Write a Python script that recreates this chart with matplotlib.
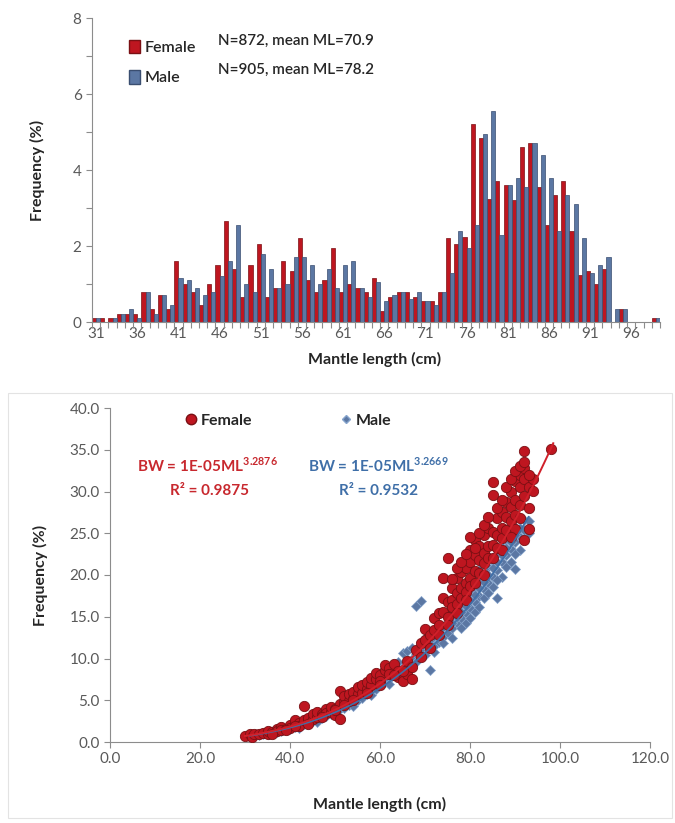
"""
Mantle length frequency (top) and length-weight relationship (bottom)
for female and male squid, redrawn from the reference figure.
"""

import numpy as np
import matplotlib
matplotlib.use("Agg")
import matplotlib.pyplot as plt
from matplotlib.patches import Patch, Rectangle
from matplotlib.lines import Line2D
from matplotlib.ticker import FormatStrFormatter, MultipleLocator

plt.rcParams["font.family"] = ["Lato", "DejaVu Sans"]
plt.rcParams["mathtext.fontset"] = "custom"
plt.rcParams["mathtext.rm"] = "Lato"
plt.rcParams["mathtext.bf"] = "Lato:bold"

# --- length frequency (%), one value per 1 cm class -------------------
ml_classes = list(range(31, 100))
female_freq = [
    0.10, 0.10, 0.10, 0.20, 0.20, 0.20, 0.80, 0.35, 0.70, 0.35,   # 31-40
    1.60, 1.00, 0.80, 0.45, 1.00, 1.50, 2.65, 1.40, 0.65, 1.50,   # 41-50
    2.05, 0.65, 0.90, 1.60, 1.35, 2.20, 1.10, 0.80, 1.10, 1.95,   # 51-60
    0.80, 1.00, 0.90, 0.80, 1.15, 0.30, 0.65, 0.80, 0.80, 0.65,   # 61-70
    0.55, 0.55, 0.80, 2.20, 2.05, 2.25, 5.20, 4.85, 3.25, 3.70,   # 71-80
    3.60, 3.20, 4.60, 4.70, 3.55, 2.55, 3.35, 3.70, 2.40, 1.25,   # 81-90
    1.35, 1.00, 1.40, 0.00, 0.35, 0.00, 0.00, 0.00, 0.10,         # 91-99
]
male_freq = [
    0.10, 0.00, 0.10, 0.20, 0.35, 0.10, 0.80, 0.20, 0.70, 0.45,   # 31-40
    1.15, 1.10, 0.90, 0.70, 0.80, 1.20, 1.60, 2.55, 1.00, 0.80,   # 41-50
    1.80, 1.40, 0.90, 1.00, 1.70, 1.70, 1.50, 1.00, 1.40, 0.90,   # 51-60
    1.50, 1.60, 0.90, 0.65, 1.05, 0.55, 0.70, 0.80, 0.60, 0.80,   # 61-70
    0.55, 0.45, 0.80, 1.30, 2.40, 1.95, 2.55, 4.95, 5.55, 2.30,   # 71-80
    3.60, 3.80, 3.55, 4.70, 4.40, 3.80, 2.40, 3.35, 3.10, 2.20,   # 81-90
    1.30, 1.50, 1.70, 0.35, 0.35, 0.00, 0.00, 0.00, 0.10,         # 91-99
]
female_label = "N=872, mean ML=70.9"
male_label = "N=905, mean ML=78.2"

# --- length-weight pairs -----------------------------------------------
female_ml = [
    30, 31, 31.5, 32, 33, 34, 35, 35, 36, 37, 37, 38, 38, 39, 40, 40, 41, 41,
    42, 42, 43, 43, 44, 44, 45, 45, 46, 46, 47, 47, 48, 48, 49, 49, 50, 50,
    51, 51, 51, 52, 52, 53, 53, 54, 54, 55, 55, 56, 56, 57, 57, 58, 58, 59,
    59, 60, 60, 61, 61, 62, 62, 63, 64, 64, 65, 66, 66, 67, 68, 69, 70, 70,
    71, 72, 72, 73, 73, 74, 74, 74, 75, 75, 75, 76, 76, 76, 77, 77, 77, 78,
    78, 78, 79, 79, 79, 80, 80, 80, 80, 81, 81, 81, 82, 82, 82, 83, 83, 83,
    84, 84, 84, 85, 85, 85, 85, 86, 86, 86, 87, 87, 87, 88, 88, 88, 89, 89,
    89, 90, 90, 90, 90, 91, 91, 91, 91, 92, 92, 92, 92, 92, 93, 93, 93, 94,
    94, 98,
    76, 77, 78, 79, 80, 81, 82, 83, 84, 86, 87, 88, 89, 90, 91, 92, 93, 89,
    87, 85, 83, 81, 79, 77, 75, 73, 71, 69, 67, 65, 63, 60, 57, 54, 52, 50,
    47, 44, 41, 39, 36,
]
female_bw = [
    0.7, 0.9, 0.6, 1.0, 0.9, 1.1, 1.0, 1.3, 1.2, 1.5, 1.3, 1.8, 1.4, 1.6,
    2.0, 1.7, 2.2, 2.6, 2.3, 1.9, 4.3, 2.6, 2.5, 2.9, 2.8, 3.3, 3.0, 3.6,
    3.4, 3.1, 3.9, 3.5, 3.6, 4.2, 4.0, 3.2, 6.1, 4.6, 2.8, 4.8, 5.5, 4.9,
    5.8, 5.2, 6.0, 5.7, 6.6, 5.9, 6.8, 6.4, 7.2, 6.8, 7.7, 7.5, 8.3, 8.0,
    7.3, 8.6, 9.2, 8.9, 8.2, 9.4, 8.5, 7.8, 7.3, 9.7, 8.2, 7.5, 11.0, 11.8,
    12.2, 13.5, 12.8, 13.4, 14.8, 15.5, 14.0, 19.7, 17.2, 15.6, 22.0, 16.8,
    15.0, 17.0, 16.2, 18.5, 17.8, 16.5, 19.6, 18.4, 20.3, 17.2, 19.0, 20.8,
    18.0, 21.5, 19.6, 23.0, 18.7, 22.4, 24.2, 20.5, 21.8, 23.5, 20.2, 22.6,
    24.8, 21.4, 23.5, 25.6, 22.0, 31.1, 29.6, 25.2, 23.6, 24.8, 26.8, 23.2,
    25.6, 27.6, 24.4, 27.0, 28.8, 25.4, 28.2, 30.0, 26.5, 29.0, 31.2, 27.2,
    25.5, 30.5, 32.0, 28.4, 26.8, 34.8, 31.5, 29.5, 24.2, 32.8, 30.5, 25.5,
    28.0, 30.1, 31.5, 35.1,
    19.5, 20.8, 21.5, 22.5, 24.5, 23.2, 25.0, 26.0, 27.0, 28.0, 29.0, 30.5,
    31.5, 32.5, 33.0, 33.5, 32.0, 24.5, 23.0, 22.0, 20.0, 19.0, 17.0, 15.4,
    14.0, 12.8, 11.2, 10.2, 9.0, 8.5, 8.0, 6.8, 5.9, 5.0, 4.4, 3.8, 3.0,
    2.2, 1.9, 1.4, 1.0,
]
male_ml = [
    31, 32, 33, 34, 35, 36, 37, 38, 39, 40, 41, 42, 43, 44, 45, 46, 47, 48,
    49, 50, 51, 52, 53, 54, 55, 56, 57, 58, 59, 60, 61, 62, 63, 64, 64, 65,
    65, 66, 66, 67, 67, 68, 68, 69, 69, 70, 70, 71, 71, 72, 72, 73, 73, 74,
    74, 75, 75, 75, 76, 76, 77, 77, 77, 78, 78, 78, 79, 79, 80, 80, 80, 81,
    81, 82, 82, 82, 83, 83, 84, 84, 84, 85, 85, 86, 86, 86, 87, 87, 88, 88,
    89, 89, 90, 90, 90, 91, 92, 93, 93,
    76, 77, 78, 79, 80, 81, 82, 83, 84, 85, 86, 87, 88, 89, 90, 91, 92, 79,
    81, 83, 85, 87, 89, 91, 76, 78, 80, 82, 84, 86, 88, 90, 74, 72, 70, 68,
    66, 62, 58, 54, 50, 46, 42,
]
male_bw = [
    0.6, 0.7, 0.8, 0.9, 1.0, 1.1, 1.2, 1.3, 1.5, 1.6, 1.8, 1.9, 2.1, 2.3,
    2.5, 2.7, 2.9, 3.1, 3.3, 3.6, 3.9, 4.1, 4.4, 4.7, 5.0, 5.3, 5.7, 6.1,
    6.4, 6.8, 7.2, 7.6, 8.1, 8.5, 9.6, 9.0, 10.6, 9.4, 10.9, 10.0, 11.3,
    16.3, 10.5, 16.9, 11.0, 11.6, 12.4, 8.6, 12.2, 12.7, 11.5, 13.2, 12.0,
    13.8, 12.6, 14.4, 13.0, 15.6, 15.0, 13.6, 15.8, 14.2, 17.0, 16.4, 14.8,
    17.8, 17.2, 15.4, 17.8, 16.0, 19.2, 18.5, 16.8, 19.3, 17.5, 20.6, 20.1,
    18.3, 20.9, 19.0, 22.3, 21.7, 19.8, 22.5, 17.2, 20.6, 23.3, 21.5, 24.2,
    22.4, 25.0, 23.1, 25.8, 23.9, 20.7, 24.6, 26.6, 26.5, 25.0,
    14.2, 15.0, 15.6, 16.3, 17.0, 17.6, 18.4, 19.2, 20.0, 20.8, 21.6, 22.4,
    23.2, 24.0, 24.8, 25.6, 25.4, 14.2, 15.6, 17.2, 18.6, 19.8, 21.5, 23.0,
    12.4, 13.6, 14.8, 16.2, 17.8, 19.4, 20.9, 22.5, 11.8, 10.8, 10.4, 9.6,
    8.6, 7.0, 5.6, 4.3, 3.3, 2.4, 1.7,
]

# power fits as printed on the chart: BW = a * ML^b
fit_a = 1e-05
female_b, female_r2 = 3.2876, 0.9875
male_b, male_r2 = 3.2669, 0.9532

RED = "#BE1620"
RED_EDGE = "#7A1014"
BLUE = "#5B77A3"
BLUE_EDGE = "#3A4E70"
AXIS = "#8C8C8C"
TICK_TXT = "#595959"
TXT = "#262626"

fig = plt.figure(figsize=(6.75, 8.23), dpi=100)

# ---------------- top: length frequency histogram ----------------------
ax1 = fig.add_axes([92 / 675, 1 - 322 / 823, 568 / 675, 304 / 823])
x = np.array(ml_classes)
ax1.bar(x - 0.25, female_freq, width=0.5, color=RED, edgecolor=RED_EDGE,
        linewidth=0.5)
ax1.bar(x + 0.25, male_freq, width=0.5, color=BLUE, edgecolor=BLUE_EDGE,
        linewidth=0.5)
ax1.set_xlim(30.5, 99.5)
ax1.set_ylim(0, 8)
ax1.set_xticks(ml_classes[::5])
ax1.set_xticks(np.arange(30.5, 100, 1), minor=True)
ax1.yaxis.set_major_locator(MultipleLocator(2))
ax1.yaxis.set_minor_locator(MultipleLocator(1))
for s in ("top", "right"):
    ax1.spines[s].set_visible(False)
for s in ("left", "bottom"):
    ax1.spines[s].set_color(AXIS)
ax1.tick_params(which="both", colors=AXIS, labelcolor=TICK_TXT,
                labelsize=11, length=4, width=0.8)
ax1.tick_params(axis="x", which="major", length=0)
ax1.set_xlabel("Mantle length (cm)", fontsize=11.5, fontweight="bold",
               color=TXT)
ax1.set_ylabel("Frequency (%)", fontsize=11.5, fontweight="bold", color=TXT)
ax1.xaxis.set_label_coords(0.498, -0.10)
ax1.yaxis.set_label_coords(-0.083, 0.5)

leg1 = ax1.legend(
    handles=[Patch(facecolor=RED, edgecolor=RED_EDGE, label="Female"),
             Patch(facecolor=BLUE, edgecolor=BLUE_EDGE, label="Male")],
    loc="upper left", bbox_to_anchor=(0.04, 0.975), frameon=False,
    handlelength=0.7, handleheight=0.9, handletextpad=0.3,
    labelspacing=0.95, fontsize=11.5)
for t in leg1.get_texts():
    t.set_color(TXT)
    t.set_fontweight("semibold")
ax1.text(0.222, 0.924, female_label, transform=ax1.transAxes,
         fontsize=11, color=TXT, va="center", fontweight="semibold")
ax1.text(0.222, 0.829, male_label, transform=ax1.transAxes,
         fontsize=11, color=TXT, va="center", fontweight="semibold")

# ---------------- bottom: length-weight scatter -------------------------
fig.patches.append(Rectangle((8 / 675, 1 - 818 / 823), 664 / 675,
                             425 / 823, transform=fig.transFigure,
                             fill=False, edgecolor="#E3E3E3", linewidth=0.8))

ax2 = fig.add_axes([110 / 675, 1 - 742 / 823, 540 / 675, 334 / 823])
ax2.scatter(female_ml, female_bw, s=55, marker="o", color=RED,
            edgecolors=RED_EDGE, linewidths=0.6, zorder=3, label="Female")
ax2.scatter(male_ml, male_bw, s=26, marker="D", color=BLUE,
            edgecolors="#86A4CC", linewidths=0.5, zorder=2, label="Male")

fx = np.linspace(min(female_ml), max(female_ml) + 0.5, 100)
mx = np.linspace(min(male_ml), max(male_ml), 100)
ax2.plot(mx, fit_a * mx ** male_b, color="#3F6FA8", linewidth=1.2, zorder=4)
ax2.plot(fx, fit_a * fx ** female_b, color="#D0202A", linewidth=1.4,
         zorder=5)

ax2.set_xlim(0, 120)
ax2.set_ylim(0, 40)
ax2.xaxis.set_major_locator(MultipleLocator(20))
ax2.yaxis.set_major_locator(MultipleLocator(5))
ax2.xaxis.set_major_formatter(FormatStrFormatter("%.1f"))
ax2.yaxis.set_major_formatter(FormatStrFormatter("%.1f"))
for s in ("top", "right"):
    ax2.spines[s].set_visible(False)
for s in ("left", "bottom"):
    ax2.spines[s].set_color(AXIS)
ax2.tick_params(colors=AXIS, labelcolor=TICK_TXT, labelsize=11, length=4,
                width=0.8)
ax2.set_xlabel("Mantle length (cm)", fontsize=11.5, fontweight="bold",
               color=TXT)
ax2.set_ylabel("Frequency (%)", fontsize=11.5, fontweight="bold", color=TXT)
ax2.xaxis.set_label_coords(0.5, -0.165)
ax2.yaxis.set_label_coords(-0.115, 0.5)

leg2 = ax2.legend(
    handles=[Line2D([], [], marker="o", linestyle="none", markersize=7.5,
                    markerfacecolor=RED, markeredgecolor=RED_EDGE,
                    label="Female"),
             Line2D([], [], marker="D", linestyle="none", markersize=4.5,
                    markerfacecolor=BLUE, markeredgecolor="#86A4CC",
                    label="Male")],
    loc="center", bbox_to_anchor=(0.33, 0.962), ncol=2, frameon=False,
    handlelength=0.8, handletextpad=0.2, columnspacing=5.5, fontsize=11.5)
for t in leg2.get_texts():
    t.set_color(TXT)
    t.set_fontweight("bold")

ax2.text(21.7, 33.1, r"BW = 1E-05ML$^{\mathbf{%s}}$" % female_b,
         color="#C8282E", fontsize=11, fontweight="bold", ha="center",
         va="center")
ax2.text(22, 30.1, f"R² = {female_r2}", color="#C8282E", fontsize=11,
         fontweight="bold", ha="center", va="center")
ax2.text(59.7, 33.1, r"BW = 1E-05ML$^{\mathbf{%s}}$" % male_b,
         color="#3F6FA8", fontsize=11, fontweight="bold", ha="center",
         va="center")
ax2.text(59.7, 30.1, f"R² = {male_r2}", color="#3F6FA8", fontsize=11,
         fontweight="bold", ha="center", va="center")

fig.savefig("out.png", dpi=100, facecolor="white")
